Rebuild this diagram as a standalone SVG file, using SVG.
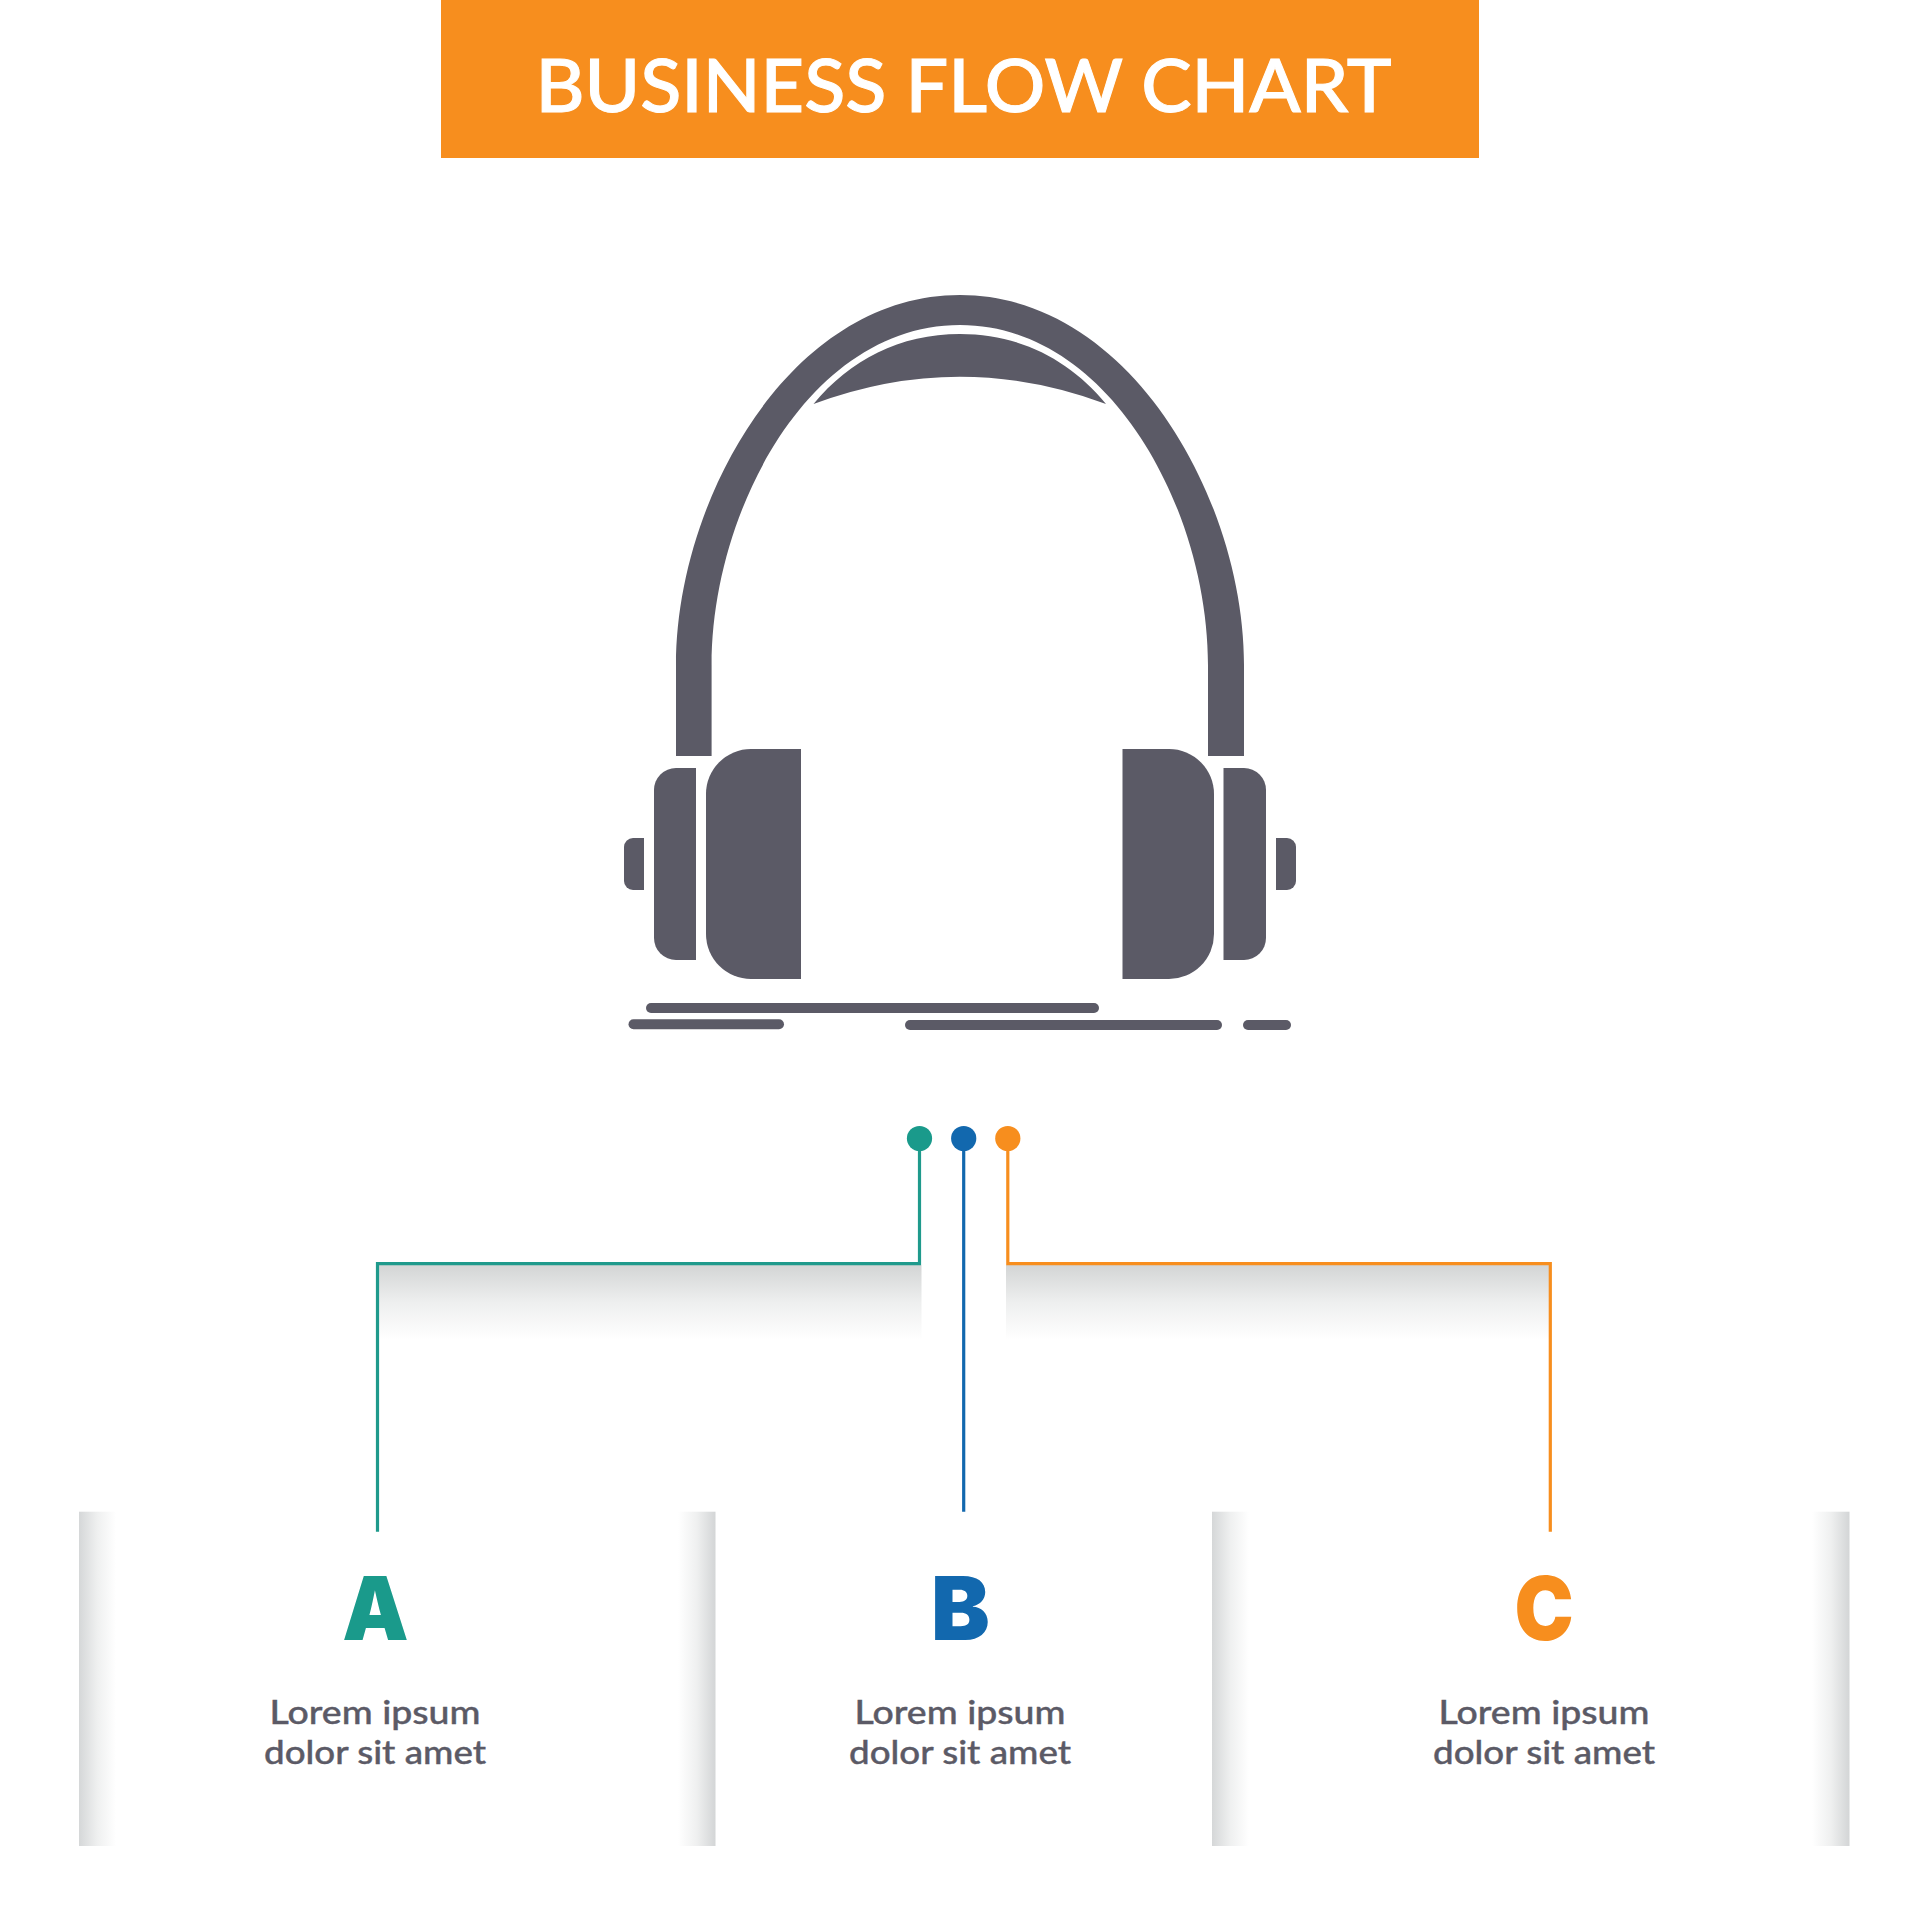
<svg xmlns="http://www.w3.org/2000/svg" width="1920" height="1920" viewBox="0 0 1920 1920">
<style>
.g{fill:#5b5a66}
.t{font-family:"Lato","Liberation Sans",sans-serif}
.l{font-family:"Inter","Liberation Sans",sans-serif;font-size:88px;font-weight:900;text-anchor:middle}
.b{font-size:33px;font-weight:500;fill:#5b5a66;stroke:#5b5a66;stroke-width:.4;text-anchor:middle}
.c{fill:none;stroke-width:3.2}
</style>
<defs>
<linearGradient id="sl" x1="0" x2="1" y1="0" y2="0"><stop offset="0" stop-color="#d5d7d8"/><stop offset=".5" stop-color="#eff0f0"/><stop offset="1" stop-color="#fff"/></linearGradient>
<linearGradient id="sr" x1="0" x2="1" y1="0" y2="0"><stop offset="0" stop-color="#fff"/><stop offset=".5" stop-color="#eff0f0"/><stop offset="1" stop-color="#d3d5d6"/></linearGradient>
<linearGradient id="sd" x1="0" x2="0" y1="0" y2="1"><stop offset="0" stop-color="#d3d5d5"/><stop offset=".5" stop-color="#eeefef"/><stop offset="1" stop-color="#fff"/></linearGradient>
</defs>
<rect width="1920" height="1920" fill="#fff"/>
<g id="header">
<rect x="441" y="0" width="1038" height="158" fill="#f78e1e"/>
<text class="t" x="963.5" y="111.7" font-size="73" font-weight="500" fill="#fff" stroke="#fff" stroke-width="1" text-anchor="middle" textLength="856" lengthAdjust="spacingAndGlyphs">BUSINESS FLOW CHART</text>
</g>
<g id="headphones" class="g">
<path d="M676,756V665C676,500 790,295 960,295C1130,295 1244,500 1244,665V756H1208V665C1208,510 1110,325 960,325C810,325 711.6,510 711.6,665V756Z"/>
<path d="M813.5,404C850,360 900,334 960,334C1020,334 1070,360 1106,404Q960,349.4 813.5,404Z"/>
<path d="M801,749H751A45,45 0 0 0 706,794V934A45,45 0 0 0 751,979H801Z"/>
<path d="M696,768H676A22,22 0 0 0 654,790V938A22,22 0 0 0 676,960H696Z"/>
<path d="M644,838H633A9,9 0 0 0 624,847V881A9,9 0 0 0 633,890H644Z"/>
<path d="M1122.5,749H1169A45,45 0 0 1 1214,794V934A45,45 0 0 1 1169,979H1122.5Z"/>
<path d="M1223.5,768H1244A22,22 0 0 1 1266,790V938A22,22 0 0 1 1244,960H1223.5Z"/>
<path d="M1276,838H1287A9,9 0 0 1 1296,847V881A9,9 0 0 1 1287,890H1276Z"/>
<rect x="646" y="1003" width="453" height="10" rx="5"/>
<rect x="628.5" y="1019.3" width="155.5" height="10" rx="5"/>
<rect x="905" y="1020" width="317" height="10" rx="5"/>
<rect x="1243" y="1020" width="48" height="10" rx="5"/>
</g>
<g id="shadows">
<rect x="377.5" y="1265" width="544" height="75" fill="url(#sd)"/>
<rect x="1006" y="1265" width="544" height="75" fill="url(#sd)"/>
</g>
<g id="connectors">
<path class="c" stroke="#1f9a8c" d="M919.5,1138V1263.7H377.5V1531.7"/>
<path class="c" stroke="#1268ae" d="M963.7,1138V1511.7"/>
<path class="c" stroke="#f78e1e" d="M1007.8,1138V1263.7H1550.3V1531.7"/>
<circle cx="919.5" cy="1138.5" r="12.6" fill="#1a9a8b"/>
<circle cx="963.7" cy="1138.5" r="12.6" fill="#1268ae"/>
<circle cx="1007.8" cy="1138.5" r="12.6" fill="#f78e1e"/>
</g>
<g id="node-a">
<rect x="79" y="1511.7" width="37" height="334.3" fill="url(#sl)"/>
<rect x="678" y="1511.7" width="37.5" height="334.3" fill="url(#sr)"/>
<text class="t l" transform="translate(375.5 1639.5) scale(.95 1)" fill="#1a9a8b">A</text>
<text class="t b" x="375" y="1724" textLength="211" lengthAdjust="spacingAndGlyphs">Lorem ipsum</text>
<text class="t b" x="375" y="1764" textLength="222" lengthAdjust="spacingAndGlyphs">dolor sit amet</text>
</g>
<g id="node-b">
<text class="t l" x="960.5" y="1639.5" fill="#1268ae">B</text>
<text class="t b" x="960" y="1724" textLength="211" lengthAdjust="spacingAndGlyphs">Lorem ipsum</text>
<text class="t b" x="960" y="1764" textLength="222" lengthAdjust="spacingAndGlyphs">dolor sit amet</text>
</g>
<g id="node-c">
<rect x="1212" y="1511.7" width="37" height="334.3" fill="url(#sl)"/>
<rect x="1812" y="1511.7" width="37.5" height="334.3" fill="url(#sr)"/>
<text class="t l" transform="translate(1544 1639.5) scale(.9 1)" fill="#f78e1e">C</text>
<text class="t b" x="1544" y="1724" textLength="211" lengthAdjust="spacingAndGlyphs">Lorem ipsum</text>
<text class="t b" x="1544" y="1764" textLength="222" lengthAdjust="spacingAndGlyphs">dolor sit amet</text>
</g>
</svg>
